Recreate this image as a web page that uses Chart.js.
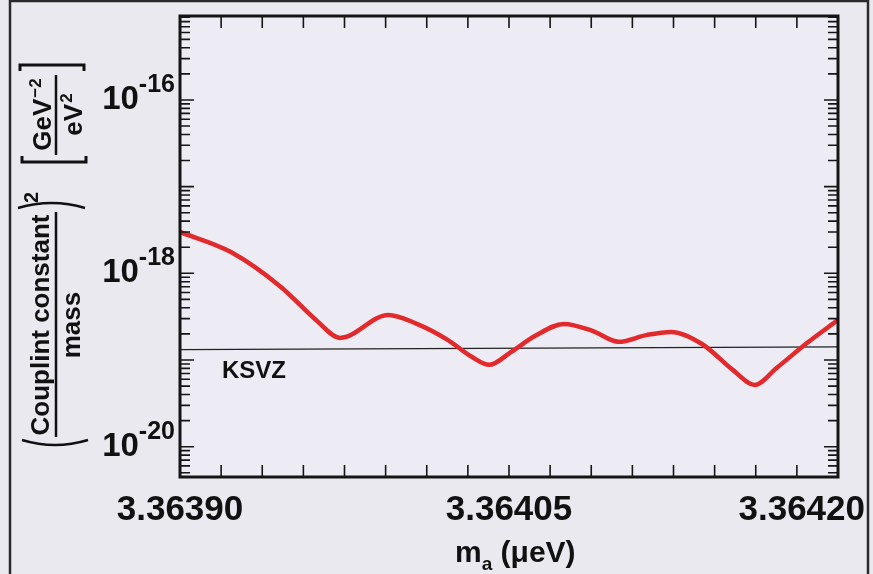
<!DOCTYPE html>
<html>
<head>
<meta charset="utf-8">
<script src="https://cdn.jsdelivr.net/npm/chart.js@4.4.1/dist/chart.umd.min.js"></script>
<style>
  html, body { margin: 0; padding: 0; background: #eae9f0; }
  #chart { display: block; }
</style>
</head>
<body>
<canvas id="chart" width="873" height="574"></canvas>
<script>
// axion mass (ueV) and excluded (coupling/mass)^2
const massValues = [3.363900, 3.363923, 3.363946, 3.363962, 3.363973, 3.363995, 3.364008,
  3.364022, 3.364033, 3.364041, 3.364051, 3.364062, 3.364075, 3.364088, 3.364100, 3.364113,
  3.364124, 3.364138, 3.364152, 3.364162, 3.364172, 3.364186, 3.364200];
const couplingValues = [3.00e-18, 1.77e-18, 6.97e-19, 2.90e-19, 1.80e-19, 3.31e-19, 2.61e-19,
  1.71e-19, 1.09e-19, 8.8e-20, 1.24e-19, 1.90e-19, 2.61e-19, 2.17e-19, 1.62e-19, 1.95e-19,
  2.11e-19, 1.53e-19, 7.7e-20, 5.16e-20, 8.1e-20, 1.58e-19, 2.90e-19];

// KSVZ reference line
const ksvzMass = [3.36390, 3.36420];
const ksvzValues = [1.32e-19, 1.42e-19];

const xTickValues = [3.36390, 3.36405, 3.36420];
const xTickLabels = ['3.36390', '3.36405', '3.36420'];
const xMinorCount = 16;
const yTickExponents = [-16, -18, -20];
const yMin = 4.47e-21;
const yMax = 9.3e-16;

const FONT = '"Liberation Sans", Arial, sans-serif';

function drawYTitle(ctx) {
    ctx.save();
    // rotated frame: screen x = v, screen y = 452 - u
    ctx.translate(0, 452);
    ctx.rotate(-Math.PI / 2);
    ctx.fillStyle = '#111';
    ctx.strokeStyle = '#111';
    ctx.textBaseline = 'alphabetic';

    ctx.font = 'bold 26px ' + FONT;
    ctx.textAlign = 'center';
    ctx.fillText('Couplint constant', 127, 49);
    ctx.fillText('mass', 127, 80);

    ctx.lineWidth = 2.5;
    ctx.beginPath();
    ctx.moveTo(15, 56); ctx.lineTo(240, 56);
    ctx.moveTo(297, 56); ctx.lineTo(377, 56);
    ctx.stroke();

    // parentheses
    ctx.beginPath();
    ctx.moveTo(12, 22); ctx.quadraticCurveTo(2, 55, 12, 88);
    ctx.moveTo(244, 18); ctx.quadraticCurveTo(254, 52, 244, 85);
    ctx.stroke();
    ctx.font = 'bold 20px ' + FONT;
    ctx.textAlign = 'left';
    ctx.fillText('2', 249, 38);

    // brackets
    ctx.lineWidth = 3;
    ctx.beginPath();
    ctx.moveTo(296, 22); ctx.lineTo(290, 22); ctx.lineTo(290, 86); ctx.lineTo(296, 86);
    ctx.moveTo(381, 20); ctx.lineTo(387, 20); ctx.lineTo(387, 84); ctx.lineTo(381, 84);
    ctx.stroke();

    // GeV^-2 / eV^2
    ctx.font = 'bold 26px ' + FONT;
    const geW = ctx.measureText('GeV').width;
    const evW = ctx.measureText('eV').width;
    ctx.font = 'bold 17px ' + FONT;
    const m2W = ctx.measureText('\u22122').width;
    const p2W = ctx.measureText('2').width;
    let u0 = 337 - (geW + m2W) / 2;
    ctx.font = 'bold 26px ' + FONT;
    ctx.fillText('GeV', u0, 51);
    ctx.font = 'bold 17px ' + FONT;
    ctx.fillText('\u22122', u0 + geW + 1, 41);
    u0 = 337 - (evW + p2W) / 2;
    ctx.font = 'bold 26px ' + FONT;
    ctx.fillText('eV', u0, 82);
    ctx.font = 'bold 17px ' + FONT;
    ctx.fillText('2', u0 + evW + 1, 72);
    ctx.restore();
}

const decorations = {
    id: 'decorations',
    beforeDraw(chart) {
        const ctx = chart.ctx;
        const a = chart.chartArea;
        ctx.save();
        ctx.fillStyle = '#eae9f0';
        ctx.fillRect(0, 0, chart.width, chart.height);
        ctx.fillStyle = '#edecf4';
        ctx.fillRect(a.left, a.top, a.right - a.left, a.bottom - a.top);
        // outer frame of the figure
        ctx.strokeStyle = '#2a2a2a';
        ctx.lineWidth = 2.5;
        ctx.beginPath();
        ctx.moveTo(10, 574); ctx.lineTo(10, 1); ctx.lineTo(868, 1); ctx.lineTo(868, 574);
        ctx.stroke();
        ctx.restore();
    },
    afterDatasetsDraw(chart) {
        const ctx = chart.ctx;
        const a = chart.chartArea;
        const xs = chart.scales.x;
        const ys = chart.scales.y;
        ctx.save();
        ctx.strokeStyle = '#151515';

        // inward tick marks on all four sides
        ctx.lineWidth = 1.6;
        ctx.beginPath();
        const step = (xs.max - xs.min) / xMinorCount;
        for (let i = 0; i <= xMinorCount; i++) {
            const px = xs.getPixelForValue(xs.min + i * step);
            ctx.moveTo(px, a.bottom); ctx.lineTo(px, a.bottom - 12);
            ctx.moveTo(px, a.top); ctx.lineTo(px, a.top + 12);
        }
        for (let d = -21; d <= -15; d++) {
            for (let k = 1; k <= 9; k++) {
                const v = k * Math.pow(10, d);
                if (v < ys.min || v > ys.max) continue;
                const py = ys.getPixelForValue(v);
                const len = k === 1 ? 14 : 10;
                ctx.moveTo(a.left, py); ctx.lineTo(a.left + len, py);
                ctx.moveTo(a.right, py); ctx.lineTo(a.right - len, py);
            }
        }
        ctx.stroke();

        ctx.lineWidth = 3;
        ctx.strokeRect(a.left, a.top, a.right - a.left, a.bottom - a.top);

        ctx.fillStyle = '#111';
        ctx.textAlign = 'left';
        ctx.textBaseline = 'alphabetic';

        // y labels 10^n
        yTickExponents.forEach(e => {
            const py = ys.getPixelForValue(Math.pow(10, e));
            const sup = String(e);
            ctx.font = 'bold 25px ' + FONT;
            const supW = ctx.measureText(sup).width;
            const right = a.left - 5;
            ctx.fillText(sup, right - supW, py - 8);
            ctx.font = 'bold 33px ' + FONT;
            const baseW = ctx.measureText('10').width;
            ctx.fillText('10', right - supW - baseW, py + 9);
        });

        // x labels
        ctx.font = 'bold 35px ' + FONT;
        xTickValues.forEach((v, i) => {
            const cx = xs.getPixelForValue(v);
            const w = ctx.measureText(xTickLabels[i]).width;
            let left = cx - w / 2;
            if (left + w > 865) left = 865 - w;
            ctx.fillText(xTickLabels[i], left, a.bottom + 43);
        });

        // x title m_a (ueV)
        let tx = 455;
        ctx.font = 'bold 30px ' + FONT;
        ctx.fillText('m', tx, 562);
        tx += ctx.measureText('m').width;
        ctx.font = 'bold 19px ' + FONT;
        ctx.fillText('a', tx, 570);
        tx += ctx.measureText('a').width;
        ctx.font = 'bold 30px ' + FONT;
        ctx.fillText(' (\u03bceV)', tx, 562);

        // KSVZ label
        ctx.font = 'bold 24px ' + FONT;
        ctx.fillText('KSVZ', a.left + 42, ys.getPixelForValue(ksvzValues[0]) + 28);

        drawYTitle(ctx);
        ctx.restore();
    }
};

new Chart(document.getElementById('chart'), {
    type: 'line',
    data: {
        datasets: [
            {
                data: massValues.map((m, i) => ({ x: m, y: couplingValues[i] })),
                borderColor: '#e22a2d',
                borderWidth: 4.5,
                pointRadius: 0,
                cubicInterpolationMode: 'monotone'
            },
            {
                data: ksvzMass.map((m, i) => ({ x: m, y: ksvzValues[i] })),
                borderColor: '#222',
                borderWidth: 1.3,
                pointRadius: 0
            }
        ]
    },
    options: {
        responsive: false,
        animation: false,
        events: [],
        layout: { padding: { top: 16, right: 35, left: 0, bottom: 0 } },
        plugins: { legend: { display: false }, tooltip: { enabled: false } },
        scales: {
            x: {
                type: 'linear',
                min: 3.36390,
                max: 3.36420,
                grid: { display: false },
                border: { display: false },
                ticks: { display: false },
                afterFit: s => { s.height = 97; }
            },
            y: {
                type: 'logarithmic',
                min: yMin,
                max: yMax,
                grid: { display: false },
                border: { display: false },
                ticks: { display: false },
                afterFit: s => { s.width = 180; }
            }
        }
    },
    plugins: [decorations]
});
</script>
</body>
</html>
